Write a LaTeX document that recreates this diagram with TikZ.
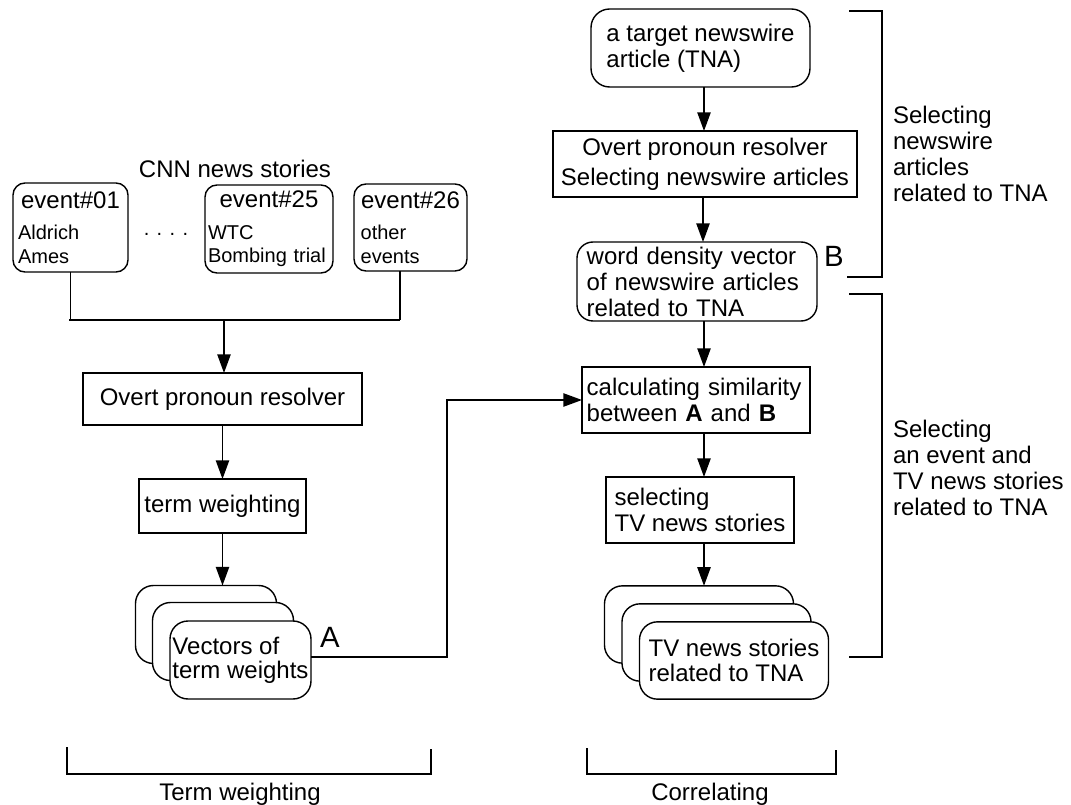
\documentclass[tikz,border=0pt]{standalone}
\usepackage{fontspec}
\setmainfont{Liberation Sans}
\usetikzlibrary{arrows.meta}
\begin{document}
\begin{tikzpicture}[x=0.75pt,y=-0.75pt,
  line width=1.05pt,
  every node/.style={inner sep=0pt, outer sep=0pt},
  big/.style={font=\fontsize{18}{19.5}\selectfont},
  small/.style={font=\fontsize{15}{17.5}\selectfont},
  huge/.style={font=\fontsize{22}{24}\selectfont},
  sqbox/.style={draw, rectangle, big},
  rdbox/.style={draw, rectangle, rounded corners=#1, big},
  evbox/.style={draw, rectangle, rounded corners=9pt, small, align=left},
  stackbox/.style={draw, fill=white, rectangle, rounded corners=13.5pt, big},
  arr/.style={-{Triangle[length=14pt,width=10pt]}},
  lbl/.style={big, align=left, anchor=west}
]
\useasboundingbox (0,0) rectangle (1071,805);

% ---------- left column ----------
\node[big, anchor=base] (cnn) at (235,178) {CNN news stories};
\node[evbox, minimum width=86.25pt, minimum height=66.75pt, text width=78.75pt, inner xsep=3.75pt] (ev1) at (70.5,227.5)
  {\makebox[\linewidth][c]{\fontsize{18}{19.5}\selectfont event\#01}\\[6.3pt]Aldrich\\Ames};
\node[small, anchor=base] (dots) at (166,236) {. . . .};
\node[evbox, minimum width=96pt, minimum height=66pt, text width=91.5pt, inner xsep=2.25pt] (ev25) at (269,229)
  {\makebox[\linewidth][c]{\fontsize{18}{19.5}\selectfont event\#25}\\[6.3pt]WTC\\Bombing trial};
\node[evbox, minimum width=84.75pt, minimum height=65.25pt, text width=74.75pt, inner xsep=5pt] (ev26) at (410.5,227.5)
  {\makebox[\linewidth][c]{\fontsize{18}{19.5}\selectfont event\#26}\\[6.3pt]other\\events};

\coordinate (jl) at (69,320);
\coordinate (jr) at (400,320);
\coordinate (jm) at (224,320);
\draw (ev1.south) -- (ev1.south |- jl);
\draw (ev26.south -| jr) -- (jr);
\draw (jl) -- (jr);

\node[sqbox, minimum width=209.25pt, minimum height=39pt] (op1) at (222.5,399) {Overt pronoun resolver};
\node[sqbox, minimum width=125.25pt, minimum height=40.5pt] (tw) at (222.5,506) {term weighting};

\node[stackbox, minimum width=105.75pt, minimum height=58.5pt] (vecA) at (206,624.5) {};
\node[stackbox, minimum width=105.75pt, minimum height=58.5pt] (vecB) at (223,641.5) {};
\node[stackbox, minimum width=105.75pt, minimum height=58.5pt, align=left, font=\fontsize{18}{18}\selectfont] (vecC) at (240.5,660) {Vectors of\\term weights};
\node[huge, anchor=base west] (labA) at (320,647) {A};

\draw[arr] (jm) -- (op1.north -| jm);
\draw[arr] (op1.south) -- (tw.north);
\draw[arr] (tw.south) -- (tw.south |- vecA.north);

% ---------- right column ----------
\coordinate (ax) at (704,0);
\node[rdbox=14pt, minimum width=164.25pt, minimum height=58.5pt, align=left] (tna) at (700.5,48) {a target newswire\\article (TNA)};
\node[sqbox, minimum width=228pt, minimum height=49.5pt, align=center] (op2) at (705,164) {Overt pronoun resolver\\[3pt]Selecting newswire articles};
\node[rdbox=12pt, minimum width=180pt, minimum height=59.25pt, text width=165.4pt, inner xsep=7.3pt, align=left] (wd) at (697,281.5) {word density vector\\of newswire articles\\related to TNA};
\node[huge, anchor=base west] (labB) at (824,266.7) {B};
\node[sqbox, minimum width=171pt, minimum height=49.5pt, text width=164pt, inner xsep=3.5pt, align=left] (calc) at (696,400) {calculating similarity\\between \textbf{A} and \textbf{B}};
\node[sqbox, minimum width=141pt, minimum height=49.5pt, align=left] (sel) at (700,510) {selecting\\TV news stories};

\node[stackbox, minimum width=141.75pt, minimum height=58pt] (tvA) at (699,624.5) {};
\node[stackbox, minimum width=141.75pt, minimum height=58pt] (tvB) at (716.5,642.5) {};
\node[stackbox, minimum width=141.75pt, minimum height=58pt, align=left, font=\fontsize{18}{18.75}\selectfont] (tvC) at (734,660.5) {TV news stories\\related to TNA};

\draw[arr] (tna.south -| ax) -- (op2.north -| ax);
\draw[arr] (op2.south -| 703,0) -- (wd.north -| 703,0);
\draw[arr] (wd.south -| ax) -- (calc.north -| ax);
\draw[arr] (calc.south -| ax) -- (sel.north -| ax);
\draw[arr] (sel.south -| ax) -- (tvA.north -| ax);

% feedback A -> calc
\coordinate (cA) at (447,400);
\draw[arr] (vecC.east |- 0,657) -| (cA) -- (calc.west);

% ---------- brackets ----------
\draw (849,11) -- (882,11) -- (882,277) -- (847,277);
\node[lbl] (t1) at (893,153.5) {Selecting\\newswire\\articles\\related to TNA};
\draw (849,294) -- (882,294) -- (882,657) -- (849,657);
\node[lbl] (t2) at (893,468.4) {Selecting\\an event and\\TV news stories\\related to TNA};

\draw (67,747) -- (67,774) -- (431,774) -- (431,749);
\node[big, anchor=base] (tterm) at (240,800) {Term weighting};
\draw (587,748) -- (587,774) -- (836,774) -- (836,750);
\node[big, anchor=base] (tcorr) at (710,800) {Correlating};
\end{tikzpicture}
\end{document}
